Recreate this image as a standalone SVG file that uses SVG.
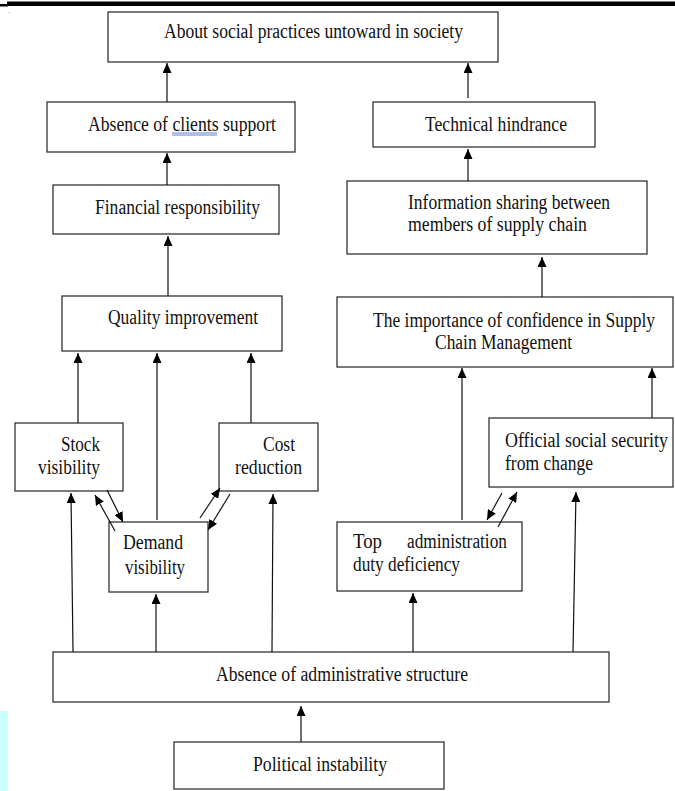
<svg xmlns="http://www.w3.org/2000/svg" width="675" height="791" viewBox="0 0 675 791">
<style>
.box{fill:#fff;stroke:#333;stroke-width:1.3}
.t{font-family:"Liberation Serif","Times New Roman",serif;font-size:20px;fill:#111}
.c line{stroke:#111;stroke-width:1.2;marker-end:url(#ah)}
</style>
<defs>
<marker id="ah" markerUnits="userSpaceOnUse" markerWidth="10" markerHeight="9" viewBox="0 0 10 9" refX="10" refY="4.5" orient="auto">
<path d="M0,0 L10,4.5 L0,9 z" fill="#000"/>
</marker>
</defs>
<rect x="0" y="0" width="675" height="791" fill="#fff"/>
<rect x="7" y="1.5" width="668" height="4.5" fill="#000"/>
<rect x="0" y="4" width="8" height="2.5" fill="#000"/>
<rect x="8.5" y="12" width="1" height="1" fill="#aaa"/>
<rect x="0" y="711" width="8" height="80" fill="#ccffff"/>

<g id="n-society">
<rect class="box" x="108" y="12" width="390" height="50"/>
<text class="t" x="164" y="38" textLength="299" lengthAdjust="spacingAndGlyphs">About social practices untoward in society</text>
</g>
<g id="n-clients">
<rect class="box" x="47" y="102" width="248" height="50"/>
<text class="t" x="88" y="131" textLength="188" lengthAdjust="spacingAndGlyphs">Absence of clients support</text>
<line x1="172" y1="133" x2="217" y2="133" stroke="#4a6fd0" stroke-width="0.9"/>
<line x1="172" y1="135" x2="217" y2="135" stroke="#4a6fd0" stroke-width="0.9"/>
</g>
<g id="n-technical">
<rect class="box" x="373" y="102" width="222" height="45"/>
<text class="t" x="425" y="131" textLength="142" lengthAdjust="spacingAndGlyphs">Technical hindrance</text>
</g>
<g id="n-financial">
<rect class="box" x="53" y="185" width="226" height="49"/>
<text class="t" x="95" y="214" textLength="165" lengthAdjust="spacingAndGlyphs">Financial responsibility</text>
</g>
<g id="n-info">
<rect class="box" x="347" y="181" width="300" height="73"/>
<text class="t" x="408" y="209" textLength="202" lengthAdjust="spacingAndGlyphs">Information sharing between</text>
<text class="t" x="408" y="231" textLength="179" lengthAdjust="spacingAndGlyphs">members of supply chain</text>
</g>
<g id="n-quality">
<rect class="box" x="62" y="296" width="220" height="55"/>
<text class="t" x="108" y="324" textLength="150" lengthAdjust="spacingAndGlyphs">Quality improvement</text>
</g>
<g id="n-importance">
<rect class="box" x="337" y="297" width="336" height="70"/>
<text class="t" x="373" y="327" textLength="282" lengthAdjust="spacingAndGlyphs">The importance of confidence in Supply</text>
<text class="t" x="435" y="349" textLength="137" lengthAdjust="spacingAndGlyphs">Chain Management</text>
</g>
<g id="n-stock">
<rect class="box" x="15" y="423" width="108" height="68"/>
<text class="t" x="61" y="451" textLength="39" lengthAdjust="spacingAndGlyphs">Stock</text>
<text class="t" x="38" y="474" textLength="62" lengthAdjust="spacingAndGlyphs">visibility</text>
</g>
<g id="n-cost">
<rect class="box" x="219" y="423" width="99" height="68"/>
<text class="t" x="263" y="451" textLength="32" lengthAdjust="spacingAndGlyphs">Cost</text>
<text class="t" x="235" y="474" textLength="67" lengthAdjust="spacingAndGlyphs">reduction</text>
</g>
<g id="n-official">
<rect class="box" x="489" y="418" width="184" height="69"/>
<text class="t" x="505" y="447" textLength="163" lengthAdjust="spacingAndGlyphs">Official social security</text>
<text class="t" x="505" y="470" textLength="88" lengthAdjust="spacingAndGlyphs">from change</text>
</g>
<g id="n-demand">
<rect class="box" x="109" y="522" width="99" height="70"/>
<text class="t" x="123" y="549" textLength="60" lengthAdjust="spacingAndGlyphs">Demand</text>
<text class="t" x="125" y="574" textLength="60" lengthAdjust="spacingAndGlyphs">visibility</text>
</g>
<g id="n-topadmin">
<rect class="box" x="337" y="522" width="185" height="69"/>
<text class="t" x="353" y="548" textLength="29" lengthAdjust="spacingAndGlyphs">Top</text>
<text class="t" x="407" y="548" textLength="100" lengthAdjust="spacingAndGlyphs">administration</text>
<text class="t" x="353" y="571" textLength="107" lengthAdjust="spacingAndGlyphs">duty deficiency</text>
</g>
<g id="n-absence-structure">
<rect class="box" x="53" y="652" width="556" height="50"/>
<text class="t" x="216" y="681" textLength="252" lengthAdjust="spacingAndGlyphs">Absence of administrative structure</text>
</g>
<g id="n-political">
<rect class="box" x="174" y="742" width="270" height="47"/>
<text class="t" x="253" y="771" textLength="134" lengthAdjust="spacingAndGlyphs">Political instability</text>
</g>

<g id="connectors" class="c">
<line x1="167" y1="102" x2="167" y2="63"/>
<line x1="468" y1="98" x2="468" y2="63"/>
<line x1="167" y1="185" x2="167" y2="153"/>
<line x1="468" y1="181" x2="468" y2="149"/>
<line x1="168" y1="296" x2="168" y2="236"/>
<line x1="542" y1="297" x2="542" y2="257"/>
<line x1="78" y1="423" x2="78" y2="353"/>
<line x1="157" y1="520" x2="157" y2="353"/>
<line x1="251" y1="423" x2="251" y2="353"/>
<line x1="462" y1="520" x2="462" y2="368"/>
<line x1="652" y1="418" x2="652" y2="368"/>
<line x1="73" y1="652" x2="71" y2="493"/>
<line x1="156" y1="652" x2="156" y2="594"/>
<line x1="272" y1="652" x2="273" y2="494"/>
<line x1="413" y1="652" x2="413" y2="593"/>
<line x1="573" y1="652" x2="576" y2="492"/>
<line x1="301" y1="742" x2="301" y2="706"/>
<line x1="107" y1="490" x2="123" y2="522"/>
<line x1="115" y1="531" x2="95" y2="495"/>
<line x1="200" y1="518" x2="220" y2="488"/>
<line x1="230" y1="494" x2="208" y2="530"/>
<line x1="502" y1="493" x2="487" y2="520"/>
<line x1="498" y1="527" x2="517" y2="492"/>
</g>
</svg>
